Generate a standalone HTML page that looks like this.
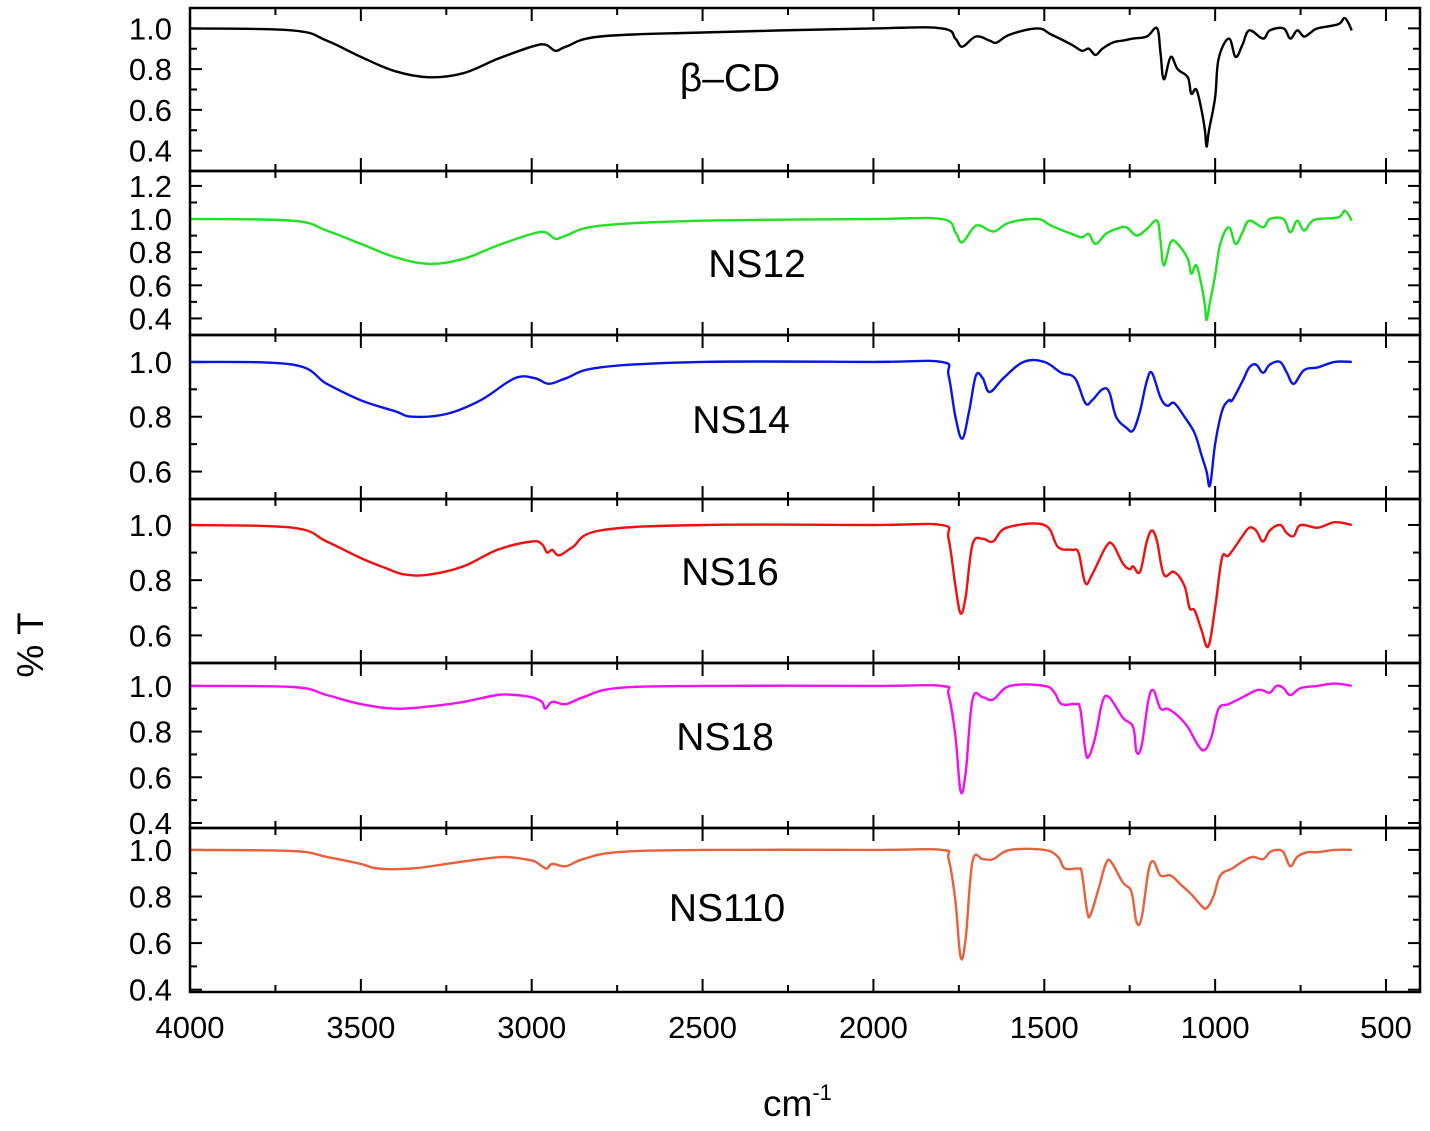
<!DOCTYPE html>
<html><head><meta charset="utf-8"><style>
body{margin:0;background:#fff;}
svg{display:block;font-family:"Liberation Sans",Arial,sans-serif;}
</style></head><body>
<svg id="chart" width="1430" height="1131" xmlns="http://www.w3.org/2000/svg"></svg>
<script>
const xTicks=[4000,3500,3000,2500,2000,1500,1000,500];
const seriesNames=["β–CD","NS12","NS14","NS16","NS18","NS110"];
const seriesColors=["#000000","#22e022","#0a14e6","#f01010","#f010f0","#e8603c"];
const yTicks=[[0.4,0.6,0.8,1.0],[0.4,0.6,0.8,1.0,1.2],[0.6,0.8,1.0],[0.6,0.8,1.0],[0.4,0.6,0.8,1.0],[0.4,0.6,0.8,1.0]];
const bCD=[[4000,1.0],[3700,0.99],[3600,0.94],[3500,0.86],[3400,0.79],[3300,0.76],[3200,0.78],[3100,0.85],[3000,0.91],[2960,0.92],[2930,0.89],[2900,0.91],[2800,0.96],[2500,0.98],[2000,1.0],[1800,1.0],[1760,0.95],[1740,0.91],[1700,0.96],[1660,0.94],[1640,0.93],[1600,0.97],[1520,1.0],[1480,0.97],[1420,0.92],[1390,0.89],[1370,0.90],[1350,0.87],[1330,0.90],[1300,0.93],[1270,0.94],[1240,0.95],[1200,0.96],[1170,1.0],[1160,0.88],[1150,0.75],[1130,0.86],[1110,0.80],[1080,0.76],[1070,0.68],[1055,0.70],[1040,0.60],[1030,0.50],[1025,0.42],[1018,0.50],[1000,0.66],[990,0.85],[960,0.95],[940,0.86],[920,0.92],[900,0.99],[860,0.95],[840,0.99],[800,1.0],[780,0.95],[760,0.99],[740,0.96],[720,0.98],[700,1.0],[640,1.02],[620,1.05],[600,0.99]];
const ns12=[[4000,1.0],[3700,0.99],[3600,0.93],[3500,0.85],[3400,0.77],[3300,0.73],[3200,0.76],[3100,0.84],[3000,0.91],[2960,0.92],[2930,0.88],[2900,0.90],[2800,0.96],[2500,0.99],[2000,1.0],[1800,1.0],[1760,0.92],[1740,0.86],[1700,0.96],[1660,0.93],[1640,0.93],[1600,0.98],[1520,1.0],[1480,0.96],[1420,0.91],[1390,0.89],[1370,0.91],[1350,0.85],[1320,0.91],[1290,0.94],[1260,0.95],[1230,0.90],[1200,0.94],[1170,0.99],[1160,0.87],[1150,0.72],[1130,0.86],[1110,0.85],[1080,0.76],[1070,0.67],[1055,0.72],[1040,0.60],[1030,0.48],[1025,0.39],[1015,0.50],[1000,0.66],[985,0.85],[960,0.95],[940,0.85],[920,0.92],[900,0.99],[860,0.95],[840,1.0],[800,1.0],[780,0.92],[760,0.99],[740,0.93],[720,0.98],[700,1.0],[640,1.01],[620,1.05],[600,0.99]];
const ns14=[[4000,1.0],[3700,0.99],[3600,0.92],[3500,0.86],[3400,0.82],[3350,0.80],[3250,0.81],[3150,0.86],[3050,0.94],[2990,0.94],[2950,0.92],[2900,0.94],[2800,0.98],[2500,1.0],[2000,1.0],[1800,1.0],[1780,0.95],[1760,0.80],[1740,0.72],[1720,0.82],[1700,0.95],[1680,0.94],[1660,0.89],[1620,0.94],[1560,1.0],[1500,1.0],[1450,0.96],[1410,0.94],[1380,0.85],[1360,0.86],[1330,0.90],[1310,0.89],[1290,0.80],[1260,0.76],[1240,0.75],[1220,0.82],[1200,0.93],[1185,0.96],[1160,0.87],[1140,0.84],[1120,0.85],[1090,0.80],[1060,0.74],[1040,0.66],[1025,0.60],[1015,0.55],[1000,0.70],[980,0.82],[960,0.86],[950,0.86],[920,0.93],[900,0.98],[880,0.99],[860,0.96],[840,0.99],[810,1.0],[790,0.96],[770,0.92],[740,0.97],[700,0.98],[650,1.0],[600,1.0]];
const ns16=[[4000,1.0],[3700,0.99],[3600,0.94],[3500,0.88],[3420,0.84],[3370,0.82],[3300,0.82],[3200,0.85],[3100,0.91],[3000,0.94],[2970,0.93],[2955,0.90],[2940,0.91],[2920,0.89],[2880,0.92],[2800,0.98],[2500,1.0],[2000,1.0],[1800,1.0],[1780,0.95],[1760,0.78],[1745,0.68],[1730,0.74],[1710,0.93],[1680,0.95],[1650,0.94],[1610,0.99],[1500,1.0],[1460,0.92],[1420,0.91],[1400,0.90],[1380,0.79],[1360,0.82],[1320,0.92],[1300,0.93],[1270,0.86],[1250,0.84],[1240,0.85],[1220,0.83],[1200,0.94],[1185,0.98],[1170,0.94],[1150,0.82],[1120,0.83],[1090,0.78],[1075,0.70],[1060,0.69],[1040,0.62],[1020,0.56],[1000,0.70],[980,0.88],[960,0.89],[920,0.96],[900,0.99],[880,0.98],[860,0.94],[840,0.98],[810,1.0],[790,0.97],[770,0.96],[750,1.0],[700,0.99],[650,1.01],[600,1.0]];
const ns18=[[4000,1.0],[3700,0.995],[3600,0.96],[3500,0.92],[3400,0.90],[3300,0.91],[3200,0.93],[3100,0.96],[3050,0.96],[3000,0.95],[2970,0.93],[2960,0.90],[2940,0.93],[2900,0.92],[2850,0.95],[2750,0.99],[2500,1.0],[2000,1.0],[1800,1.0],[1780,0.96],[1760,0.78],[1745,0.54],[1730,0.62],[1710,0.94],[1680,0.95],[1650,0.94],[1600,1.0],[1500,1.0],[1470,0.97],[1450,0.92],[1410,0.92],[1395,0.90],[1380,0.72],[1370,0.69],[1350,0.78],[1330,0.93],[1310,0.95],[1270,0.86],[1240,0.82],[1230,0.71],[1215,0.74],[1195,0.94],[1180,0.98],[1160,0.90],[1140,0.90],[1110,0.87],[1080,0.82],[1050,0.74],[1030,0.72],[1010,0.78],[990,0.90],[960,0.92],[920,0.95],[880,0.98],[860,0.98],[840,0.97],[820,1.0],[800,0.99],[780,0.96],[750,0.99],[700,1.0],[650,1.01],[600,1.0]];
const ns110=[[4000,1.0],[3700,0.995],[3600,0.97],[3500,0.94],[3450,0.92],[3350,0.92],[3250,0.94],[3150,0.96],[3080,0.97],[3020,0.96],[2990,0.95],[2970,0.93],[2955,0.92],[2940,0.94],[2900,0.93],[2850,0.96],[2750,0.99],[2500,1.0],[2000,1.0],[1800,1.0],[1780,0.96],[1760,0.78],[1745,0.54],[1730,0.62],[1710,0.95],[1680,0.96],[1650,0.96],[1600,1.0],[1500,1.0],[1460,0.97],[1440,0.92],[1400,0.92],[1390,0.90],[1375,0.74],[1365,0.72],[1340,0.84],[1320,0.94],[1305,0.95],[1270,0.86],[1245,0.82],[1230,0.69],[1215,0.71],[1195,0.91],[1180,0.95],[1160,0.89],[1130,0.89],[1100,0.85],[1070,0.81],[1040,0.76],[1025,0.75],[1005,0.80],[985,0.89],[950,0.92],[920,0.95],[890,0.97],[860,0.96],[840,0.99],[820,1.0],[800,0.99],[780,0.93],[760,0.97],[730,0.99],[700,0.99],[650,1.0],[600,1.0]];
const seriesData=[bCD,ns12,ns14,ns16,ns18,ns110];

const NS="http://www.w3.org/2000/svg";
const svg=document.getElementById('chart');
const L=190,R=1420;
const panelTop=[8,171,335,499,663,828],panelBot=[171,335,499,663,828,992];
const yMin=[0.30,0.30,0.50,0.50,0.378,0.39],yMax=[1.10,1.29,1.098,1.094,1.10,1.094];
const labelPos=[[730,78],[757,264],[741,420],[730,572],[725,737],[727,908]];
function xs(w){return L+(4000-w)*(1386-190)/3500;}
function ys(i,v){return panelBot[i]-(v-yMin[i])/(yMax[i]-yMin[i])*(panelBot[i]-panelTop[i]);}
function mk(tag,attrs,parent){const e=document.createElementNS(NS,tag);for(const k in attrs)e.setAttribute(k,attrs[k]);(parent||svg).appendChild(e);return e;}
function smoothPath(p){
  let d='M'+p[0][0].toFixed(1)+','+p[0][1].toFixed(1);
  const t=0.18;
  for(let k=0;k<p.length-1;k++){
    const p0=p[k-1]||p[k],p1=p[k],p2=p[k+1],p3=p[k+2]||p2;
    const c1x=p1[0]+(p2[0]-p0[0])*t,c1y=p1[1]+(p2[1]-p0[1])*t;
    const c2x=p2[0]-(p3[0]-p1[0])*t,c2y=p2[1]-(p3[1]-p1[1])*t;
    d+=' C'+c1x.toFixed(1)+','+c1y.toFixed(1)+' '+c2x.toFixed(1)+','+c2y.toFixed(1)+' '+p2[0].toFixed(1)+','+p2[1].toFixed(1);
  }
  return d;
}

for(let i=0;i<6;i++){
  const g=mk('g',{});
  
  
  const t=panelTop[i],b=panelBot[i];
  for(let w=4000;w>=400;w-=250){
    const x=xs(w);const len=(w%500===0)?13:7;
    mk('line',{x1:x,y1:b,x2:x,y2:b-len,stroke:'#000','stroke-width':2},g);
    mk('line',{x1:x,y1:t,x2:x,y2:t+len,stroke:'#000','stroke-width':2},g);
  }
  const yt=yTicks[i];
  for(let k=0;k<yt.length;k++){
    const v=yt[k];const y=ys(i,v);
    mk('line',{x1:L,y1:y,x2:L+12,y2:y,stroke:'#000','stroke-width':2},g);
    mk('line',{x1:R,y1:y,x2:R-12,y2:y,stroke:'#000','stroke-width':2},g);
    const ym=ys(i,v+0.1);
    if(ym>t+2){mk('line',{x1:L,y1:ym,x2:L+7,y2:ym,stroke:'#000','stroke-width':2},g);mk('line',{x1:R,y1:ym,x2:R-7,y2:ym,stroke:'#000','stroke-width':2},g);}
    const tx=mk('text',{x:172,y:y+11,'text-anchor':'end','font-size':31,fill:'#000'},g);
    tx.textContent=v.toFixed(1);
    
    
  }
  const pts=seriesData[i].map(p=>[xs(p[0]),ys(i,p[1])]);
  const pl=mk('path',{d:smoothPath(pts),fill:'none',stroke:seriesColors[i],'stroke-width':2.4,'stroke-linejoin':'round'},g);
  
  
  const lb=mk('text',{x:labelPos[i][0],y:labelPos[i][1]+13,'text-anchor':'middle','font-size':39,fill:'#000'},g);
  lb.textContent=seriesNames[i];
  
  
  mk('rect',{x:L,y:t,width:R-L,height:b-t,fill:'none',stroke:'#000','stroke-width':2.5},g);
}
for(const w of xTicks){
  const tx=mk('text',{x:xs(w),y:1038,'text-anchor':'middle','font-size':31,fill:'#000'});
  tx.textContent=w;
  
  
}
const xt=mk('text',{x:763,y:1116,'font-size':37,fill:'#000'});
xt.innerHTML='cm<tspan dy="-16" font-size="22">-1</tspan>';


const yt=mk('text',{x:0,y:0,'font-size':37,fill:'#000','text-anchor':'middle',transform:'translate(43,645) rotate(-90)'});
yt.textContent='% T';


</script>
</body></html>
